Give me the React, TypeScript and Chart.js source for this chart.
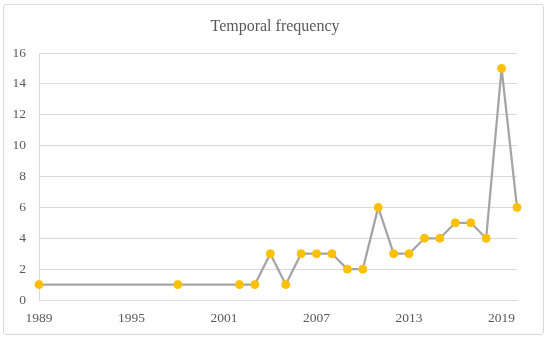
import React, { useEffect, useRef } from "react";
import { Chart, registerables } from "chart.js";

Chart.register(...registerables);

const years = [1989, 1998, 2002, 2003, 2004, 2005, 2006, 2007, 2008, 2009, 2010, 2011, 2012, 2013, 2014, 2015, 2016, 2017, 2018, 2019, 2020];
const counts = [1, 1, 1, 1, 3, 1, 3, 3, 3, 2, 2, 6, 3, 3, 4, 4, 5, 5, 4, 15, 6];
const xTickValues = [1989, 1995, 2001, 2007, 2013, 2019];
const chartTitle = "Temporal frequency";

const FONT = "'Liberation Serif', 'DejaVu Serif', serif";

const titlePlugin = {
  id: "customTitle",
  afterDraw(chart: any) {
    const ctx = chart.ctx;
    ctx.save();
    ctx.font = `16px ${FONT}`;
    ctx.fillStyle = "#595959";
    ctx.textAlign = "center";
    ctx.textBaseline = "alphabetic";
    ctx.fillText(chartTitle, 275, 31);
    ctx.restore();
  },
};

export default function App() {
  const ref = useRef<HTMLCanvasElement | null>(null);
  useEffect(() => {
    document.body.style.margin = "0";
    const chart = new Chart(ref.current!, {
      type: "line",
      data: {
        datasets: [
          {
            data: years.map((y, i) => ({ x: y, y: counts[i] })),
            borderColor: "#A5A5A5",
            borderWidth: 2.25,
            borderJoinStyle: "round",
            pointBackgroundColor: "#FFC000",
            pointBorderColor: "#FFC000",
            pointRadius: 4,
            pointBorderWidth: 1,
            tension: 0,
            clip: false,
          },
        ],
      },
      options: {
        animation: false,
        responsive: false,
        layout: { padding: { top: 53, left: 0, right: 33, bottom: 0 } },
        plugins: { legend: { display: false }, tooltip: { enabled: false } },
        scales: {
          x: {
            type: "linear",
            min: 1989,
            max: 2020,
            afterBuildTicks: (s: any) => {
              s.ticks = xTickValues.map((v) => ({ value: v }));
            },
            afterFit: (s: any) => {
              s.height = 41;
            },
            grid: { display: false, drawTicks: false },
            border: { display: true, color: "#D9D9D9", width: 1 },
            ticks: {
              font: { family: FONT, size: 13.5 },
              color: "#595959",
              padding: 10,
              maxRotation: 0,
              callback: (v: any) => String(v),
            },
          },
          y: {
            min: 0,
            max: 16,
            afterFit: (s: any) => {
              s.width = 39;
            },
            grid: { color: "#D9D9D9", drawTicks: false, lineWidth: 1 },
            border: { display: true, color: "#D9D9D9", width: 1 },
            ticks: {
              stepSize: 2,
              font: { family: FONT, size: 13.5 },
              color: "#595959",
              padding: 13,
            },
          },
        },
      },
      plugins: [titlePlugin],
    });
    return () => chart.destroy();
  }, []);
  return (
    <div style={{ position: "relative", width: 550, height: 341, background: "#fff" }}>
      <div
        style={{
          position: "absolute",
          left: 3,
          top: 4,
          width: 541,
          height: 331,
          border: "1px solid #D9D9D9",
          borderRadius: 3,
          boxSizing: "border-box",
        }}
      />
      <canvas ref={ref} width={550} height={341} style={{ position: "absolute", left: 0, top: 0 }} />
    </div>
  );
}
